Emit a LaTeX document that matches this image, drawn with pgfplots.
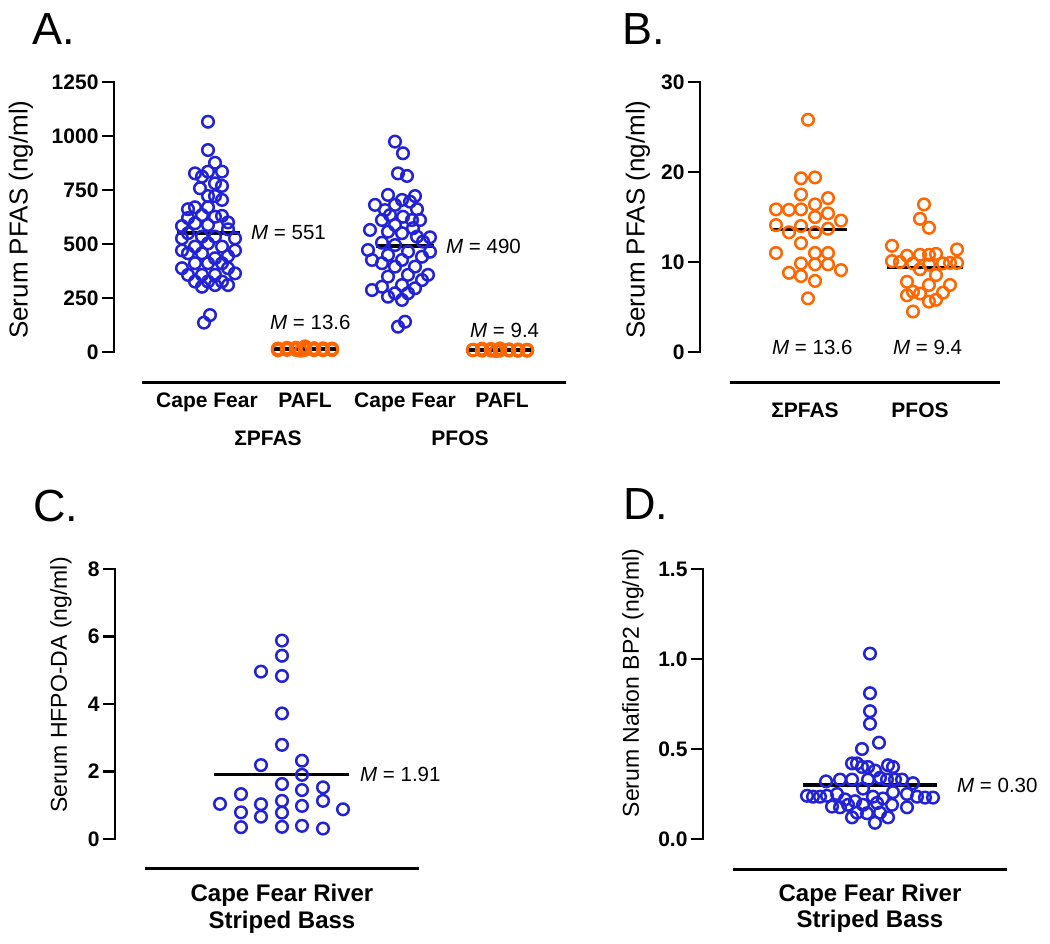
\documentclass[border=0pt]{standalone}
\usepackage{pgfplots}
\usepackage{pgfplotstable}
\pgfplotsset{compat=1.18}
\usepackage{fontspec}
\setmainfont{Liberation Sans}
\definecolor{cfblue}{RGB}{34,34,214}
\definecolor{paorange}{RGB}{255,102,0}

% x units are pixels of the layout, dx = jitter from the column centre
\pgfplotstableread{
dx v
0 1066
0 935
7 876
-13 827
0 835
14 835
-6 812
-8 758
7 781
14 769
0 722
7 722
14 704
-20 661
-13 670
0 670
-6 634
7 626
14 630
-26 583
-13 596
0 588
20 568
-20 550
-26 526
-6 534
7 534
27 526
-13 488
0 503
14 488
-20 457
-6 457
20 444
7 434
-13 411
0 411
14 411
-26 388
20 388
-20 357
-6 357
7 357
27 364
-13 326
0 326
14 326
-6 302
7 310
20 310
-26 470
27 470
20 600
-20 620
2 171
-4 136
}\cfsum

\pgfplotstableread{
dx v
-10 974
-2 920
-7 827
2 815
-17 727
-3 704
10 722
-10 681
5 696
-20 657
12 661
-15 634
-2 626
15 611
7 611
-23 611
-10 588
8 573
-17 557
-3 550
25 531
12 534
18 511
-23 506
-10 495
25 464
3 464
-17 449
17 441
-3 426
-23 411
-10 395
10 395
23 357
3 357
-17 349
17 333
-3 310
-23 302
10 295
-10 272
3 272
-17 256
-3 241
-35 565
-33 426
-33 287
-30 681
-37 472
0 140
-7 117
}\cfpfos

% PAFL: dxA = jitter in panel A, dxB = jitter in panel B
\pgfplotstableread{
dxA dxB v
0 0 25.8
-18 -7 19.3
-9 7 19.4
9 -7 17.5
18 20 17.1
27 -32 15.85
-27 -19 15.8
-18 -7 15.85
-9 7 16.4
0 20 15.4
9 7 15.0
18 33 14.6
27 -32 14.1
-27 -7 14.0
-18 -19 13.3
-9 7 13.3
0 20 13.7
9 -7 12.1
18 -32 11.0
27 7 11.0
-27 20 11.0
-18 -7 9.85
-9 7 9.74
0 20 9.74
9 -19 8.8
18 -7 8.44
27 33 9.1
-27 7 7.9
-4 0 5.96
}\pasum

\pgfplotstableread{
dxA dxB v
0 0 16.4
-18 -4 14.8
-9 5 13.8
9 -32 11.8
18 33 11.4
27 -32 10.1
-27 -24 10.0
-18 -17 10.7
-9 -4 10.8
0 5 10.8
9 12 10.9
18 -11 9.85
27 5 9.7
-27 19 9.85
-18 26 9.9
-9 33 9.9
0 -4 9.2
9 12 8.55
18 -17 7.8
27 5 7.45
-27 26 7.45
-18 -17 6.3
-9 -11 6.7
0 -4 6.5
9 19 6.6
18 5 5.6
27 12 5.8
-4 -11 4.5
}\papfos

\pgfplotstableread{
dx v
0 5.88
0 5.43
-21 4.96
0 4.83
0 3.72
0 2.79
-21 2.19
20 2.32
20 1.90
0 1.63
20 1.45
41 1.53
-41 1.33
-62 1.04
-21 1.03
0 1.13
20 0.98
41 1.13
61 0.88
-41 0.79
-21 0.66
0 0.78
-41 0.35
0 0.36
20 0.39
41 0.31
}\hfpo

\pgfplotstableread{
dx v
0 1.03
0 0.81
0 0.71
0 0.64
-8 0.50
9 0.535
-18 0.42
-13 0.42
-8 0.40
-2 0.40
5 0.38
18 0.41
23 0.40
-30 0.33
-44 0.32
-18 0.33
-2 0.33
10 0.34
17 0.33
25 0.33
32 0.33
43 0.31
-63 0.24
-57 0.235
-50 0.235
-43 0.24
-33 0.25
-7 0.28
23 0.26
37 0.25
47 0.235
55 0.23
63 0.23
-25 0.22
-15 0.21
3 0.235
13 0.225
-38 0.18
-30 0.176
-22 0.19
-7 0.19
7 0.20
22 0.19
37 0.176
-13 0.146
-3 0.143
10 0.146
-18 0.12
18 0.12
5 0.09
}\nafion

\pgfplotsset{
  swarm/.style={
    scale only axis, clip=false, enlargelimits=false,
    axis x line=none,
    axis y line=left,
    y axis line style={black, line width=2.4pt, -, shorten <=-1.2pt, shorten >=-1.2pt},
    ytick style={line width=2.3pt, black},
    tick align=outside,
    major tick length=12pt,
    scaled y ticks=false,
    /pgf/number format/assume math mode=true,
    /pgf/number format/1000 sep={},
    yticklabel style={font=\fontsize{21}{21}\selectfont\bfseries},
  },
  cf/.style={only marks, color=cfblue, mark=o, mark size=5.8pt, mark options={line width=2.5pt}},
  pa/.style={only marks, color=paorange, mark=o, mark size=5.8pt, mark options={line width=2.5pt}},
  mline/.style={black, line width=3.4pt, no marks},
  vline/.style={black, line width=2.4pt, no marks, line cap=rect},
}
\tikzset{
  mtext/.style={anchor=west, inner sep=0pt, font=\fontsize{20.5}{20.5}\selectfont},
  xbase/.style={line width=3pt, black},
  cat/.style={anchor=base, inner sep=0pt, align=center, font=\fontsize{21}{21}\selectfont\bfseries},
  cat2/.style={anchor=base, inner sep=0pt, align=center, font=\fontsize{24}{26.5}\selectfont\bfseries},
  letter/.style={anchor=base west, inner sep=0pt, font=\fontsize{45}{45}\selectfont},
}

\begin{document}
\begin{tikzpicture}
\useasboundingbox (0,0) rectangle (1050pt,944pt);

% ---------- A ----------
\begin{axis}[swarm,
  at={(114pt,592pt)}, anchor=south west, width=452pt, height=270pt,
  xmin=114, xmax=566, ymin=0, ymax=1250,
  ytick={0,250,...,1250},
  ylabel={Serum PFAS (ng/ml)},
  ylabel style={at={(axis description cs:-0.206,0.49)}, anchor=center, font=\fontsize{26}{26}\selectfont},
]
\addplot[vline] coordinates {(114,0) (114,1250)};
\addplot[cf] table[x expr=\thisrow{dx}+208, y=v] {\cfsum};
\addplot[pa] table[x expr=\thisrow{dxA}+305, y=v] {\pasum};
\addplot[cf] table[x expr=\thisrow{dx}+405, y=v] {\cfpfos};
\addplot[pa] table[x expr=\thisrow{dxA}+500, y=v] {\papfos};
\addplot[mline] coordinates {(177,551) (240,551)};
\addplot[mline] coordinates {(273,13.6) (338,13.6)};
\addplot[mline] coordinates {(376,490) (434,490)};
\addplot[mline] coordinates {(467,9.4) (532,9.4)};
\node[mtext] at (axis cs:251,551) {\textit{M} = 551};
\node[mtext] at (axis cs:446,490) {\textit{M} = 490};
\node[mtext] at (axis cs:270,139) {\textit{M} = 13.6};
\node[mtext] at (axis cs:470,102) {\textit{M} = 9.4};
\draw[xbase] (axis cs:142,-143.5) -- (axis cs:566,-143.5);
\node[cat] at (axis cs:207,-255) {Cape Fear};
\node[cat] at (axis cs:305,-255) {PAFL};
\node[cat] at (axis cs:405,-255) {Cape Fear};
\node[cat] at (axis cs:502,-255) {PAFL};
\node[cat] at (axis cs:268,-435) {ΣPFAS};
\node[cat] at (axis cs:460,-435) {PFOS};
\end{axis}

% ---------- B ----------
\begin{axis}[swarm,
  at={(700pt,592pt)}, anchor=south west, width=310pt, height=270pt,
  xmin=700, xmax=1010, ymin=0, ymax=30,
  ytick={0,10,20,30},
  ylabel={Serum PFAS (ng/ml)},
  ylabel style={at={(axis description cs:-0.2,0.49)}, anchor=center, font=\fontsize{26}{26}\selectfont},
]
\addplot[vline] coordinates {(700,0) (700,30)};
\addplot[pa] table[x expr=\thisrow{dxB}+808, y=v] {\pasum};
\addplot[pa] table[x expr=\thisrow{dxB}+924, y=v] {\papfos};
\addplot[mline] coordinates {(771,13.6) (847,13.6)};
\addplot[mline] coordinates {(887,9.4) (963,9.4)};
\node[mtext] at (axis cs:772,0.55) {\textit{M} = 13.6};
\node[mtext] at (axis cs:893,0.55) {\textit{M} = 9.4};
\draw[xbase] (axis cs:730,-3.44) -- (axis cs:1000,-3.44);
\node[cat] at (axis cs:805,-7.3) {ΣPFAS};
\node[cat] at (axis cs:920,-7.3) {PFOS};
\end{axis}

% ---------- C ----------
\begin{axis}[swarm,
  at={(115pt,105pt)}, anchor=south west, width=325pt, height=270pt,
  xmin=115, xmax=440, ymin=0, ymax=8,
  ytick={0,2,4,6,8},
  ylabel={Serum HFPO-DA (ng/ml)},
  ylabel style={at={(axis description cs:-0.166,0.57)}, anchor=center, font=\fontsize{23}{23}\selectfont},
]
\addplot[vline] coordinates {(115,0) (115,8)};
\addplot[cf] table[x expr=\thisrow{dx}+282, y=v] {\hfpo};
\addplot[mline] coordinates {(214,1.91) (349,1.91)};
\node[mtext] at (axis cs:360,1.91) {\textit{M} = 1.91};
\draw[xbase] (axis cs:145,-0.88) -- (axis cs:419,-0.88);
\node[cat2] at (axis cs:282,-1.86) {Cape Fear River};
\node[cat2] at (axis cs:282,-2.64) {Striped Bass};
\end{axis}

% ---------- D ----------
\begin{axis}[swarm,
  at={(703pt,105pt)}, anchor=south west, width=337pt, height=270pt,
  xmin=703, xmax=1040, ymin=0, ymax=1.5,
  ytick={0,0.5,1.0,1.5},
  yticklabel style={/pgf/number format/.cd, fixed, fixed zerofill, precision=1},
  ylabel={Serum Nafion BP2 (ng/ml)},
  ylabel style={at={(axis description cs:-0.208,0.578)}, anchor=center, font=\fontsize{23}{23}\selectfont},
]
\addplot[vline] coordinates {(703,0) (703,1.5)};
\addplot[cf] table[x expr=\thisrow{dx}+870, y=v] {\nafion};
\addplot[mline] coordinates {(803,0.30) (937,0.30)};
\node[mtext] at (axis cs:957,0.30) {\textit{M} = 0.30};
\draw[xbase] (axis cs:733,-0.167) -- (axis cs:1007,-0.167);
\node[cat2] at (axis cs:870,-0.350) {Cape Fear River};
\node[cat2] at (axis cs:870,-0.494) {Striped Bass};
\end{axis}

% panel letters
\node[letter] at (32pt,899pt) {A.};
\node[letter] at (622pt,899pt) {B.};
\node[letter] at (33pt,422pt) {C.};
\node[letter] at (623pt,424pt) {D.};
\end{tikzpicture}
\end{document}
